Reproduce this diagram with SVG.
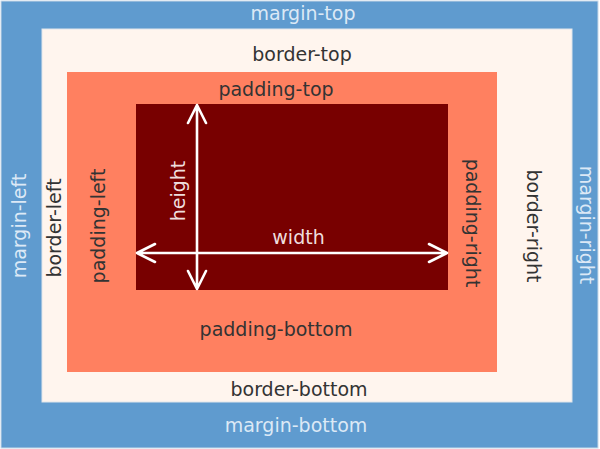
<svg xmlns="http://www.w3.org/2000/svg" width="600" height="449" viewBox="0 0 600 449">
<style>
text{font-family:"DejaVu Sans",Verdana,sans-serif;font-size:19px;text-anchor:middle}
.m{fill:#dce9f6}
.d{fill:#333333}
.w{fill:#eedede}
.arr{fill:none;stroke:#ffffff;stroke-width:2.6;stroke-linecap:round;stroke-linejoin:round}
</style>
<rect x="0" y="0" width="600" height="449" fill="#ffffff"/>
<g id="margin">
<rect x="1" y="1" width="597" height="447" fill="#5f9bcf" stroke="#c8d8e8" stroke-width="1"/>
<text class="m" x="303" y="20">margin-top</text>
<text class="m" x="296" y="432">margin-bottom</text>
<text class="m" transform="translate(26,226) rotate(-90)">margin-left</text>
<text class="m" transform="translate(580,225) rotate(90)">margin-right</text>
</g>
<g id="border">
<rect x="42" y="29" width="530" height="373" fill="#fff5ee" stroke="#dfe6ec" stroke-width="1"/>
<text class="d" x="302" y="61">border-top</text>
<text class="d" x="299" y="396">border-bottom</text>
<text class="d" transform="translate(61,228) rotate(-90)">border-left</text>
<text class="d" transform="translate(527,226) rotate(90)">border-right</text>
</g>
<g id="padding">
<rect x="67" y="72" width="430" height="300" fill="#ff8060"/>
<text class="d" x="276" y="96">padding-top</text>
<text class="d" x="276" y="336">padding-bottom</text>
<text class="d" transform="translate(105,226) rotate(-90)">padding-left</text>
<text class="d" transform="translate(466,223) rotate(90)">padding-right</text>
</g>
<g id="content">
<rect x="136" y="104" width="312" height="186" fill="#780000"/>
<text class="w" x="298.5" y="244">width</text>
<text class="w" transform="translate(185,191) rotate(-90)">height</text>
</g>
<g id="connectors">
<path class="arr" d="M137,253 H447 M155,244 L137,253 L155,262 M429,244 L447,253 L429,262"/>
<path class="arr" d="M197,105 V289 M188,123 L197,105 L206,123 M188,271 L197,289 L206,271"/>
</g>
</svg>
